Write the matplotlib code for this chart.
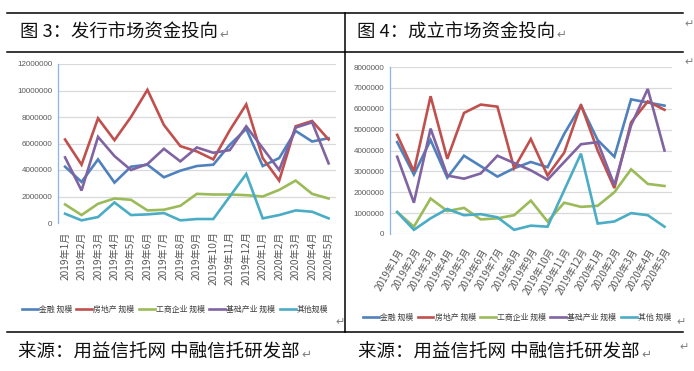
import numpy as np
import matplotlib
matplotlib.use('Agg')
import matplotlib.pyplot as plt
from matplotlib.lines import Line2D

plt.rcParams['font.family'] = ['Noto Sans CJK SC', 'DejaVu Sans']

# months on the x axis
months = ['2019年1月', '2019年2月', '2019年3月', '2019年4月', '2019年5月', '2019年6月',
          '2019年7月', '2019年8月', '2019年9月', '2019年10月', '2019年11月', '2019年12月',
          '2020年1月', '2020年2月', '2020年3月', '2020年4月', '2020年5月']

# issuance market (values in millions)
fin_issue = [4.25, 3.1, 4.8, 3.05, 4.25, 4.4, 3.45, 3.95, 4.3, 4.4, 5.9, 7.1, 4.3, 4.9, 6.95, 6.15, 6.4]
re_issue = [6.3, 4.4, 7.9, 6.25, 8.0, 10.05, 7.4, 5.8, 5.4, 4.8, 7.0, 8.95, 4.9, 3.2, 7.3, 7.7, 6.3]
ind_issue = [1.4, 0.6, 1.45, 1.85, 1.75, 0.95, 1.0, 1.3, 2.2, 2.15, 2.15, 2.1, 2.0, 2.5, 3.2, 2.2, 1.85]
infra_issue = [4.95, 2.45, 6.5, 5.05, 4.0, 4.45, 5.6, 4.65, 5.7, 5.3, 5.5, 7.3, 5.65, 4.0, 7.2, 7.6, 4.5]
other_issue = [0.7, 0.2, 0.45, 1.55, 0.6, 0.65, 0.75, 0.2, 0.3, 0.3, 2.0, 3.7, 0.35, 0.6, 0.95, 0.85, 0.35]

# established market (values in millions)
fin_est = [4.4, 2.85, 4.5, 2.7, 3.75, 3.25, 2.75, 3.15, 3.45, 3.2, 4.8, 6.15, 4.5, 3.7, 6.45, 6.3, 6.15]
re_est = [4.75, 3.0, 6.6, 3.6, 5.8, 6.2, 6.1, 3.15, 4.55, 2.8, 3.9, 6.2, 4.0, 2.2, 5.35, 6.35, 5.95]
ind_est = [1.05, 0.35, 1.7, 1.1, 1.25, 0.7, 0.75, 0.9, 1.6, 0.6, 1.5, 1.3, 1.35, 2.0, 3.1, 2.4, 2.3]
infra_est = [3.7, 1.5, 5.05, 2.8, 2.65, 2.9, 3.75, 3.4, 3.05, 2.6, 3.45, 4.3, 4.4, 2.35, 5.2, 6.95, 4.0]
other_est = [1.05, 0.2, 0.75, 1.2, 0.9, 0.95, 0.8, 0.2, 0.4, 0.35, 2.1, 3.85, 0.5, 0.6, 1.0, 0.9, 0.35]

names_issue = ['金融 规模', '房地产 规模', '工商企业 规模', '基础产业 规模', '其他规模']
names_est = ['金融 规模', '房地产 规模', '工商企业 规模', '基础产业 规模', '其他 规模']
colors = ['#4F81BD', '#C0504D', '#9BBB59', '#8064A2', '#4BACC6']

W, H = 694, 371
fig = plt.figure(figsize=(W / 100, H / 100), dpi=100)


def fx(px):
    return px / W


def fy(py):
    return 1 - py / H


def draw_panel(ax, series, names, ymax, ystep, rot):
    x = np.arange(len(months))
    for vals, name, c in zip(series, names, colors):
        ax.plot(x, np.array(vals) * 1e6, color=c, lw=1.9, label=name,
                solid_joinstyle='miter')
    ax.set_xlim(-0.43, len(months) - 1 + 0.45)
    ax.set_ylim(0, ymax)
    ticks = np.arange(0, ymax + 1, ystep)
    ax.set_yticks(ticks)
    ax.set_yticklabels([str(int(t)) for t in ticks], fontsize=5.8, color='#595959',
                       family='Liberation Sans')
    ax.yaxis.grid(True, color='#D9D9D9', lw=0.9)
    ax.set_axisbelow(True)
    for s in ['top', 'right', 'bottom']:
        ax.spines[s].set_visible(False)
    ax.spines['left'].set_color('#8EB4E3')
    ax.spines['left'].set_linewidth(0.9)
    ax.tick_params(axis='y', length=0, pad=4)
    ax.set_xticks(x)
    if rot == 90:
        ax.tick_params(axis='x', length=0, pad=6)
        ax.set_xticklabels(months, rotation=90, fontsize=7.3, color='#595959',
                           ha='center', va='top')
    else:
        ax.tick_params(axis='x', length=0, pad=9)
        ax.set_xticklabels(months, rotation=rot, fontsize=7, color='#595959',
                           ha='right', va='top', rotation_mode='anchor')


ax1 = fig.add_axes([fx(58), fy(223), fx(336) - fx(58), fy(64) - fy(223)])
draw_panel(ax1, [fin_issue, re_issue, ind_issue, infra_issue, other_issue],
           names_issue, 12000000, 2000000, 90)
ax2 = fig.add_axes([fx(390), fy(234), fx(672) - fx(390), fy(67) - fy(234)])
draw_panel(ax2, [fin_est, re_est, ind_est, infra_est, other_est],
           names_est, 8000000, 1000000, 60)

# legends below each chart
for ax, cx, cy in [(ax1, 175, 309), (ax2, 517, 317)]:
    h, l = ax.get_legend_handles_labels()
    fig.legend(h, l, loc='center', bbox_to_anchor=(fx(cx), fy(cy)), ncol=5,
               frameon=False, fontsize=5.7, handlelength=2.0, handletextpad=0.15,
               columnspacing=0.55, labelcolor='#404040', borderpad=0)

# table borders like the document layout
lc = 'black'
for yy in [13, 51.5, 332]:
    fig.add_artist(Line2D([fx(7), fx(683)], [fy(yy), fy(yy)], color=lc, lw=1.1))
fig.add_artist(Line2D([fx(344.5), fx(344.5)], [fy(13), fy(332)], color=lc, lw=1.1))

renderer = fig.canvas.get_renderer()


def text_with_mark(px, py, s, size):
    t = fig.text(fx(px), fy(py), s, fontsize=size, va='center', ha='left', color='#111111')
    bb = t.get_window_extent(renderer)
    fig.text(bb.x1 / W + 0.002, fy(py + 1), '↵', fontsize=size * 0.65, va='center',
             ha='left', color='#808080', family=['DejaVu Sans'])


text_with_mark(20, 33, '图 3：发行市场资金投向', 13.2)
text_with_mark(357, 33, '图 4：成立市场资金投向', 13.2)
text_with_mark(18, 353, '来源：用益信托网 中融信托研发部', 13.3)
text_with_mark(358, 353, '来源：用益信托网 中融信托研发部', 13.3)

for px, py in [(689, 24), (689, 62), (340, 322), (681, 322), (684, 347)]:
    fig.text(fx(px), fy(py), '↵', fontsize=8, va='center', ha='center',
             color='#808080', family=['DejaVu Sans'])

plt.savefig('out.png', dpi=100)
